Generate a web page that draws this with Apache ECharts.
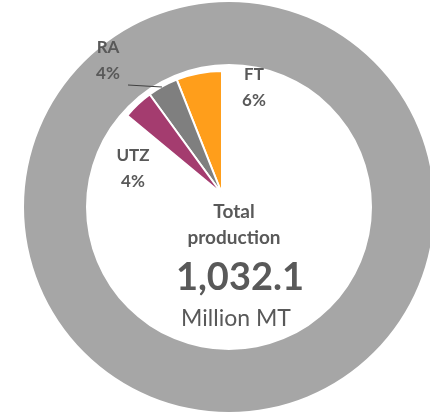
<!DOCTYPE html>
<html>
<head>
<meta charset="utf-8">
<script src="https://cdn.jsdelivr.net/npm/echarts@6/dist/echarts.min.js"></script>
<style>
  html, body { margin: 0; padding: 0; background: #fff; }
  #chart { width: 430px; height: 414px; }
</style>
</head>
<body>
<div id="chart"></div>
<script>
// certification shares (percent of total production)
const labels = ['FT', 'RA', 'UTZ'];
const shares = [6, 4, 4];
const colors = ['#FF9E1B', '#7F7F7F', '#A43C6F'];
const totalProduction = '1,032.1';
const unit = 'Million MT';

const textColor = '#595959';
const font = 'Lato, "Open Sans", sans-serif';

// rest of the pie stays invisible
const rest = 100 - shares.reduce((a, b) => a + b, 0);
const pieData = labels.map((name, i) => ({
  name: name,
  value: shares[i],
  itemStyle: { color: colors[i] }
}));
pieData.push({
  name: 'rest',
  value: rest,
  itemStyle: { color: 'rgba(0,0,0,0)', borderWidth: 0 },
  label: { show: false },
  labelLine: { show: false },
  emphasis: { disabled: true }
});

// hand placed labels like in the original slide (block centers)
const labelPos = [
  [254, 88],   // FT
  [108, 61],   // RA
  [133, 169]   // UTZ
];

const chart = echarts.init(document.getElementById('chart'));

const option = {
  animation: false,
  series: [
    {
      name: 'Total',
      type: 'pie',
      center: [229, 207],
      radius: [143, 205],
      silent: true,
      label: { show: false },
      labelLine: { show: false },
      itemStyle: { color: '#A6A6A6' },
      data: [{ name: 'Total production', value: 100 }]
    },
    {
      name: 'Certified',
      type: 'pie',
      center: [222, 194],
      radius: [0, 123],
      startAngle: 90,
      clockwise: false,
      avoidLabelOverlap: false,
      itemStyle: { borderColor: '#fff', borderWidth: 2 },
      label: {
        show: true,
        position: 'outside',
        formatter: '{b}\n{d}%',
        color: textColor,
        fontFamily: font,
        fontWeight: 'bold',
        fontSize: 17,
        lineHeight: 26,
        align: 'center'
      },
      labelLine: { show: false },
      labelLayout: function (params) {
        const p = labelPos[params.dataIndex];
        if (!p) return {};
        return { x: p[0], y: p[1], align: 'center', verticalAlign: 'middle' };
      },
      data: pieData
    }
  ],
  graphic: [
    {
      type: 'line',
      z: 100,
      shape: { x1: 128, y1: 85, x2: 162, y2: 87 },
      style: { stroke: '#404040', lineWidth: 1 }
    },
    {
      type: 'text',
      z: 100,
      style: {
        x: 234, y: 225,
        text: 'Total\nproduction',
        fill: textColor,
        font: 'bold 19px ' + font,
        lineHeight: 26,
        align: 'center',
        verticalAlign: 'middle'
      }
    },
    {
      type: 'text',
      z: 100,
      style: {
        x: 240, y: 278,
        text: totalProduction,
        fill: textColor,
        font: 'bold 38px ' + font,
        align: 'center',
        verticalAlign: 'middle'
      }
    },
    {
      type: 'text',
      z: 100,
      style: {
        x: 236, y: 319,
        text: unit,
        fill: textColor,
        font: '23px ' + font,
        align: 'center',
        verticalAlign: 'middle'
      }
    }
  ]
};

chart.setOption(option);
</script>
</body>
</html>
